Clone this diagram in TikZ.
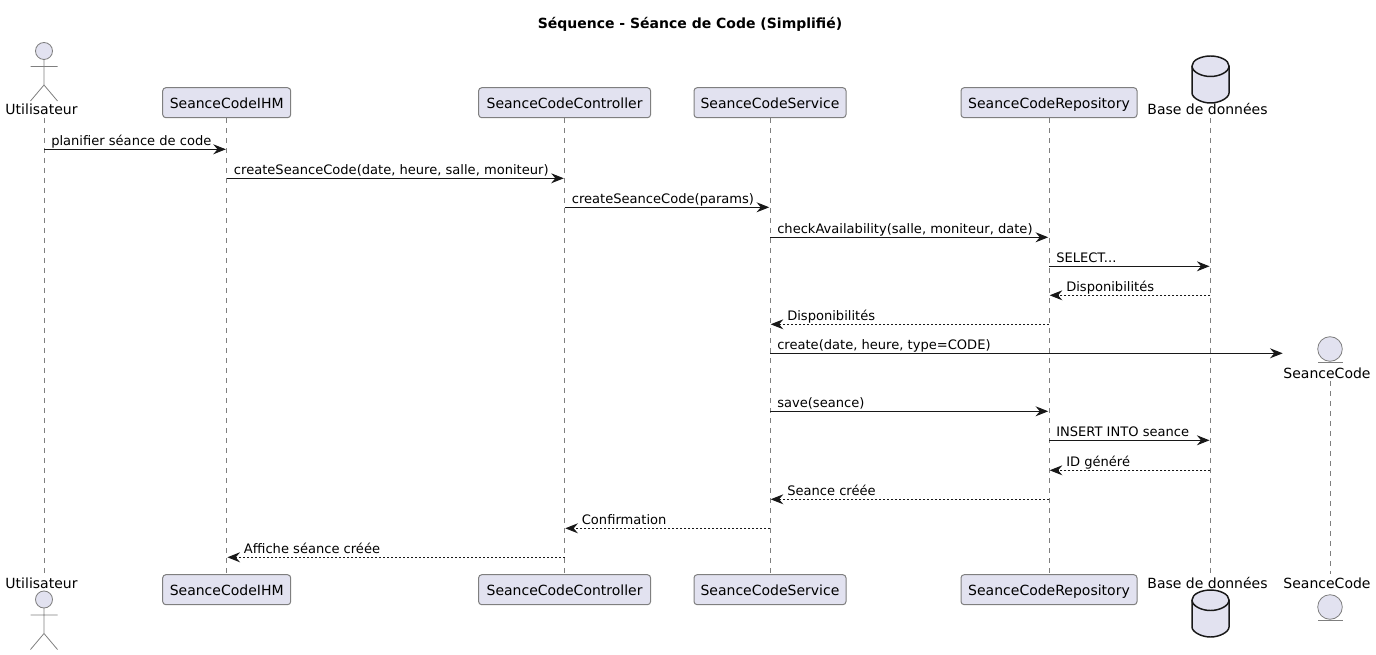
\documentclass[tikz,border=0pt]{standalone}
\usepackage{fontspec}
\setmainfont{DejaVu Sans}
\usetikzlibrary{arrows.meta}
\definecolor{partfill}{HTML}{E2E2F0}
\definecolor{partline}{HTML}{181818}
\definecolor{lifeln}{HTML}{7F7F7F}
\tikzset{
  partbox/.style={draw=lifeln,fill=partfill,line width=0.75pt,rounded corners=2.4pt,minimum height=22.5pt,inner sep=0pt,text depth=0pt,font=\fontsize{10.5pt}{12pt}\selectfont,text=black},
  partlabel/.style={inner sep=0pt,anchor=base,font=\fontsize{10.5pt}{12pt}\selectfont,text=black},
  msglabel/.style={inner sep=0pt,anchor=base west,font=\fontsize{9.8pt}{12pt}\selectfont,text=black},
  lifeline/.style={draw=lifeln,line width=0.6pt,dash pattern=on 3.75pt off 3.75pt},
  figure/.style={draw=lifeln,fill=partfill,line width=0.6pt},
  figline/.style={draw=lifeln,line width=0.6pt},
  dbshape/.style={draw=partline,fill=partfill,line width=1.1pt},
  callarrow/.style={draw=partline,line width=0.75pt,-{Stealth[length=9.5pt,width=7.5pt,inset=3.2pt]}},
  retarrow/.style={draw=partline,line width=0.75pt,dash pattern=on 1.5pt off 1.5pt,-{Stealth[length=9.5pt,width=7.5pt,inset=3.2pt]}}
}
% from, to, y, label
\newcommand{\callmsg}[4]{%
  \draw[callarrow] (#1 |- 0,#3+0.3) -- ([xshift=-0.6pt]#2 |- 0,#3+0.3);
  \node[msglabel] (m#3) at ([xshift=5.25pt]#1 |- 0,#3-3.7) {#4};}
\newcommand{\retmsg}[4]{%
  \draw[retarrow] (#1 |- 0,#3+0.3) -- ([xshift=0.5pt]#2 |- 0,#3+0.3);
  \node[msglabel] (m#3) at ([xshift=12.75pt]#2 |- 0,#3-3.7) {#4};}
% x, top y (cylinder)
\newcommand{\cyl}[2]{%
  \draw[dbshape] (#1-18.5,#2+10) -- (#1-18.5,#2+37)
    .. controls (#1-18.5,#2+42) and (#1-9,#2+47) .. (#1,#2+47)
    .. controls (#1+9,#2+47) and (#1+18.5,#2+42) .. (#1+18.5,#2+37)
    -- (#1+18.5,#2+10)
    .. controls (#1+18.5,#2+4) and (#1+9,#2) .. (#1,#2)
    .. controls (#1-9,#2) and (#1-18.5,#2+4) .. (#1-18.5,#2+10) -- cycle;
  \draw[dbshape,fill=none] (#1-18.5,#2+10)
    .. controls (#1-18.5,#2+16) and (#1-9,#2+20.5) .. (#1,#2+20.5)
    .. controls (#1+9,#2+20.5) and (#1+18.5,#2+16) .. (#1+18.5,#2+10);}
% x, head y (actor)
\newcommand{\stick}[2]{%
  \draw[figure] (#1,#2) circle[radius=8.5];
  \draw[figline] (#1,#2+8.5) -- (#1,#2+34) (#1-13.5,#2+15.5) -- (#1+13.5,#2+15.5)
    (#1-13.5,#2+50) -- (#1,#2+34) -- (#1+13.5,#2+50);}
\begin{document}
\begin{tikzpicture}[x=0.75pt,y=-0.75pt]
\path[use as bounding box] (0,0) rectangle (1376,655);
\node[inner sep=0pt,anchor=base,font=\fontsize{10.5pt}{12pt}\selectfont\bfseries] (title) at (690,29) {Séquence - Séance de Code (Simplifié)};

% lifeline ends for the non-box participants
\coordinate (utilT) at (44,118);   \coordinate (utilB) at (44,574);
\coordinate (baseT) at (1210.3,118); \coordinate (baseB) at (1210.3,574);
\coordinate (entT) at (1330,381);  \coordinate (entB) at (1330,574);

% boxes
\node[partbox,minimum width=96pt] (ihmT) at (226.7,102.7) {SeanceCodeIHM};
\node[partbox,minimum width=96pt] (ihmB) at (226.7,589.7) {SeanceCodeIHM};
\node[partbox,minimum width=129pt] (ctlT) at (564.6,102.7) {SeanceCodeController};
\node[partbox,minimum width=129pt] (ctlB) at (564.6,589.7) {SeanceCodeController};
\node[partbox,minimum width=114pt] (svcT) at (770,102.7) {SeanceCodeService};
\node[partbox,minimum width=114pt] (svcB) at (770,589.7) {SeanceCodeService};
\node[partbox,minimum width=132pt] (repT) at (1049,102.7) {SeanceCodeRepository};
\node[partbox,minimum width=132pt] (repB) at (1049,589.7) {SeanceCodeRepository};

% lifelines
\draw[lifeline] (utilT) -- (utilB);
\draw[lifeline] (ihmT.south) -- (ihmB.north);
\draw[lifeline] (ctlT.south) -- (ctlB.north);
\draw[lifeline] (svcT.south) -- (svcB.north);
\draw[lifeline] (repT.south) -- (repB.north);
\draw[lifeline] (baseT) -- (baseB);
\draw[lifeline] (entT) -- (entB);

% actor
\stick{44}{51}
\node[partlabel] (utilTl) at (41.5,115) {Utilisateur};
\stick{44}{599.5}
\node[partlabel] (utilBl) at (41.5,588) {Utilisateur};

% database
\cyl{1210.5}{56}
\node[partlabel] (baseTl) at (1207.5,115) {Base de données};
\cyl{1210.5}{590}
\node[partlabel] (baseBl) at (1207.5,588) {Base de données};

% entity
\draw[figure] (1330,349) circle[radius=12.3];
\draw[figline] (1318,362.5) -- (1343,362.5);
\node[partlabel] (entTl) at (1327,378.3) {SeanceCode};
\draw[figure] (1330,607) circle[radius=12.3];
\draw[figline] (1318,620.5) -- (1343,620.5);
\node[partlabel] (entBl) at (1327,588) {SeanceCode};

% messages
\callmsg{utilT}{ihmT}{149}{planifier séance de code}
\callmsg{ihmT}{ctlT}{178}{createSeanceCode(date, heure, salle, moniteur)}
\callmsg{ctlT}{svcT}{207}{createSeanceCode(params)}
\callmsg{svcT}{repT}{237}{checkAvailability(salle, moniteur, date)}
\callmsg{repT}{baseT}{266}{SELECT...}
\retmsg{baseT}{repT}{295}{Disponibilités}
\retmsg{repT}{svcT}{324}{Disponibilités}
\draw[callarrow] (svcT |- 0,353.3) -- ([xshift=-35.5pt]entT |- 0,353.3);
\node[msglabel] (m353) at ([xshift=5.25pt]svcT |- 0,349.5) {create(date, heure, type=CODE)};
\callmsg{svcT}{repT}{411}{save(seance)}
\callmsg{repT}{baseT}{440}{INSERT INTO seance}
\retmsg{baseT}{repT}{470}{ID généré}
\retmsg{repT}{svcT}{499}{Seance créée}
\retmsg{svcT}{ctlT}{528}{Confirmation}
\retmsg{ctlT}{ihmT}{557}{Affiche séance créée}
\end{tikzpicture}
\end{document}
